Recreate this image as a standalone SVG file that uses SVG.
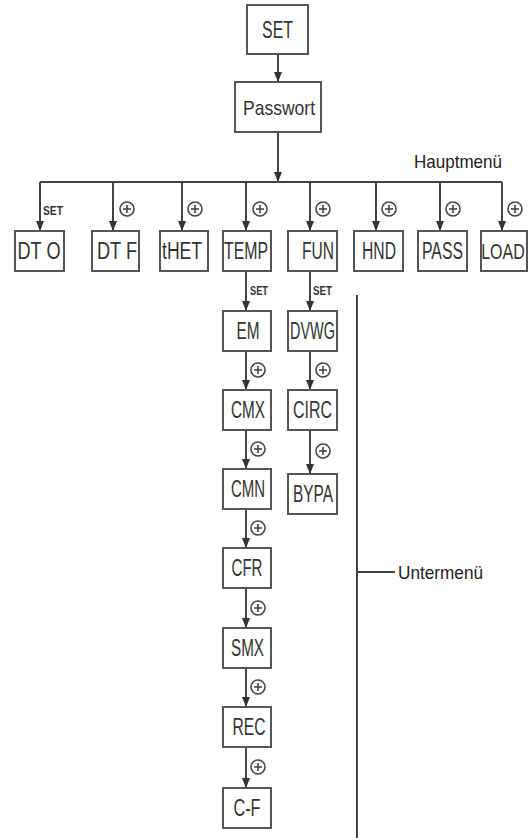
<svg xmlns="http://www.w3.org/2000/svg" width="529" height="838" viewBox="0 0 529 838">
<defs>
<style>
.box{fill:#fff;stroke:#555;stroke-width:2}
.lbl{font-family:"Liberation Sans",Arial,sans-serif;font-size:23px;fill:#333;text-anchor:middle}
.cap{font-family:"Liberation Sans",Arial,sans-serif;font-size:19px;fill:#222}
.set{font-family:"Liberation Sans",Arial,sans-serif;font-size:13px;font-weight:bold;fill:#333}
.ln{stroke:#444;stroke-width:2;fill:none}
.ah{fill:#333}
.pc{fill:#fff;stroke:#444;stroke-width:1.6}
.pl{stroke:#444;stroke-width:1.6}
</style>
<g id="plus"><circle class="pc" r="7"/><line class="pl" x1="-4" y1="0" x2="4" y2="0"/><line class="pl" x1="0" y1="-4" x2="0" y2="4"/></g>
</defs>
<rect width="529" height="838" fill="#fff"/>

<g id="connectors">
<line class="ln" x1="278" y1="54" x2="278" y2="82"/>
<path class="ah" d="M274,72 L282,72 L278,82 Z"/>
<line class="ln" x1="278" y1="132" x2="278" y2="182"/>
<path class="ah" d="M274,172 L282,172 L278,182 Z"/>
<line class="ln" x1="40" y1="182" x2="502" y2="182"/>
<g id="drops">
<line class="ln" x1="40" y1="182" x2="40" y2="231"/><path class="ah" d="M36,221 L44,221 L40,231 Z"/>
<line class="ln" x1="113" y1="182" x2="113" y2="231"/><path class="ah" d="M109,221 L117,221 L113,231 Z"/>
<line class="ln" x1="182" y1="182" x2="182" y2="231"/><path class="ah" d="M178,221 L186,221 L182,231 Z"/>
<line class="ln" x1="246" y1="182" x2="246" y2="231"/><path class="ah" d="M242,221 L250,221 L246,231 Z"/>
<line class="ln" x1="310" y1="182" x2="310" y2="231"/><path class="ah" d="M306,221 L314,221 L310,231 Z"/>
<line class="ln" x1="376" y1="182" x2="376" y2="231"/><path class="ah" d="M372,221 L380,221 L376,231 Z"/>
<line class="ln" x1="440" y1="182" x2="440" y2="231"/><path class="ah" d="M436,221 L444,221 L440,231 Z"/>
<line class="ln" x1="502" y1="182" x2="502" y2="231"/><path class="ah" d="M498,221 L506,221 L502,231 Z"/>
</g>
<g id="temp-chain">
<line class="ln" x1="246" y1="271" x2="246" y2="311"/><path class="ah" d="M242,301 L250,301 L246,311 Z"/>
<line class="ln" x1="246" y1="351" x2="246" y2="390"/><path class="ah" d="M242,380 L250,380 L246,390 Z"/>
<line class="ln" x1="246" y1="430" x2="246" y2="469"/><path class="ah" d="M242,459 L250,459 L246,469 Z"/>
<line class="ln" x1="246" y1="509" x2="246" y2="548"/><path class="ah" d="M242,538 L250,538 L246,548 Z"/>
<line class="ln" x1="246" y1="588" x2="246" y2="628"/><path class="ah" d="M242,618 L250,618 L246,628 Z"/>
<line class="ln" x1="246" y1="668" x2="246" y2="707"/><path class="ah" d="M242,697 L250,697 L246,707 Z"/>
<line class="ln" x1="246" y1="747" x2="246" y2="788"/><path class="ah" d="M242,778 L250,778 L246,788 Z"/>
</g>
<g id="fun-chain">
<line class="ln" x1="310" y1="271" x2="310" y2="311"/><path class="ah" d="M306,301 L314,301 L310,311 Z"/>
<line class="ln" x1="310" y1="351" x2="310" y2="390"/><path class="ah" d="M306,380 L314,380 L310,390 Z"/>
<line class="ln" x1="310" y1="430" x2="310" y2="474"/><path class="ah" d="M306,464 L314,464 L310,474 Z"/>
</g>
<g id="untermenu-bracket">
<line class="ln" x1="357" y1="295" x2="357" y2="838"/>
<line class="ln" x1="357" y1="572" x2="395" y2="572"/>
</g>
</g>

<g id="labels">
<text class="cap" x="414" y="168" textLength="88" lengthAdjust="spacingAndGlyphs">Hauptmenü</text>
<text class="cap" x="398" y="579" textLength="85" lengthAdjust="spacingAndGlyphs">Untermenü</text>
<text class="set" x="43" y="215" textLength="20" lengthAdjust="spacingAndGlyphs">SET</text>
<text class="set" x="250" y="295" textLength="18" lengthAdjust="spacingAndGlyphs">SET</text>
<text class="set" x="313" y="295" textLength="19" lengthAdjust="spacingAndGlyphs">SET</text>
<use href="#plus" x="127" y="209"/>
<use href="#plus" x="195" y="209"/>
<use href="#plus" x="260" y="209"/>
<use href="#plus" x="323" y="209"/>
<use href="#plus" x="389" y="209"/>
<use href="#plus" x="453" y="209"/>
<use href="#plus" x="515" y="209"/>
<use href="#plus" x="258" y="370"/>
<use href="#plus" x="258" y="449"/>
<use href="#plus" x="258" y="528"/>
<use href="#plus" x="258" y="608"/>
<use href="#plus" x="258" y="687"/>
<use href="#plus" x="258" y="767"/>
<use href="#plus" x="323" y="370"/>
<use href="#plus" x="323" y="451"/>
</g>

<g id="n-set"><rect class="box" x="247" y="5" width="61" height="49"/><text class="lbl" x="277.5" y="38" textLength="31" lengthAdjust="spacingAndGlyphs">SET</text></g>
<g id="n-passwort"><rect class="box" x="235" y="82" width="86" height="50"/><text class="lbl" x="279" y="115" style="font-size:21px" textLength="72" lengthAdjust="spacingAndGlyphs">Passwort</text></g>

<g id="n-dto"><rect class="box" x="15" y="231" width="49" height="40"/><text class="lbl" x="39" y="259" textLength="43" lengthAdjust="spacingAndGlyphs">DT O</text></g>
<g id="n-dtf"><rect class="box" x="92" y="231" width="47" height="40"/><text class="lbl" x="117" y="259" textLength="40" lengthAdjust="spacingAndGlyphs">DT F</text></g>
<g id="n-thet"><rect class="box" x="160" y="231" width="48" height="40"/><text class="lbl" x="182" y="259" textLength="40" lengthAdjust="spacingAndGlyphs">tHET</text></g>
<g id="n-temp"><rect class="box" x="223" y="231" width="48" height="40"/><text class="lbl" x="246" y="259" textLength="44" lengthAdjust="spacingAndGlyphs">TEMP</text></g>
<g id="n-fun"><rect class="box" x="288" y="231" width="49" height="40"/><text class="lbl" x="318" y="259" textLength="32" lengthAdjust="spacingAndGlyphs">FUN</text></g>
<g id="n-hnd"><rect class="box" x="354" y="231" width="49" height="40"/><text class="lbl" x="379" y="259" textLength="34" lengthAdjust="spacingAndGlyphs">HND</text></g>
<g id="n-pass"><rect class="box" x="418" y="231" width="49" height="40"/><text class="lbl" x="442.5" y="259" textLength="41" lengthAdjust="spacingAndGlyphs">PASS</text></g>
<g id="n-load"><rect class="box" x="481" y="231" width="46" height="40"/><text class="lbl" transform="translate(503,259) scale(1,1.39)" x="0" y="0" style="font-size:16px">LOAD</text></g>

<g id="n-em"><rect class="box" x="223" y="311" width="48" height="40"/><text class="lbl" x="248" y="339" textLength="23" lengthAdjust="spacingAndGlyphs">EM</text></g>
<g id="n-cmx"><rect class="box" x="223" y="390" width="48" height="40"/><text class="lbl" x="248" y="418" textLength="34" lengthAdjust="spacingAndGlyphs">CMX</text></g>
<g id="n-cmn"><rect class="box" x="223" y="469" width="48" height="40"/><text class="lbl" x="248" y="497" textLength="34" lengthAdjust="spacingAndGlyphs">CMN</text></g>
<g id="n-cfr"><rect class="box" x="223" y="548" width="48" height="40"/><text class="lbl" x="247" y="576" textLength="31" lengthAdjust="spacingAndGlyphs">CFR</text></g>
<g id="n-smx"><rect class="box" x="223" y="628" width="48" height="40"/><text class="lbl" x="247.5" y="656" textLength="33" lengthAdjust="spacingAndGlyphs">SMX</text></g>
<g id="n-rec"><rect class="box" x="223" y="707" width="48" height="40"/><text class="lbl" x="249" y="735" textLength="33" lengthAdjust="spacingAndGlyphs">REC</text></g>
<g id="n-cf"><rect class="box" x="223" y="788" width="48" height="40"/><text class="lbl" x="247" y="816" textLength="27" lengthAdjust="spacingAndGlyphs">C-F</text></g>

<g id="n-dvwg"><rect class="box" x="288" y="311" width="49" height="40"/><text class="lbl" x="312.5" y="339" textLength="45" lengthAdjust="spacingAndGlyphs">DVWG</text></g>
<g id="n-circ"><rect class="box" x="288" y="390" width="49" height="40"/><text class="lbl" x="312.5" y="418" textLength="39" lengthAdjust="spacingAndGlyphs">CIRC</text></g>
<g id="n-bypa"><rect class="box" x="288" y="474" width="49" height="40"/><text class="lbl" x="313" y="502" textLength="40" lengthAdjust="spacingAndGlyphs">BYPA</text></g>
</svg>
